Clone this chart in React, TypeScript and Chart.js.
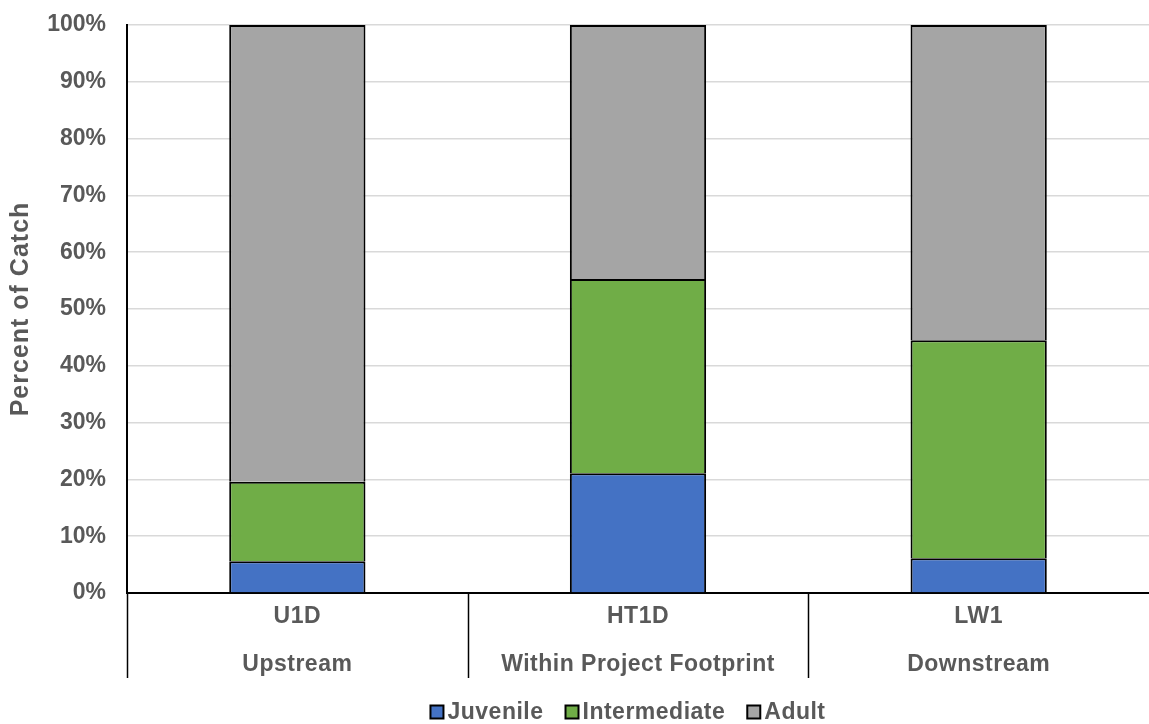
import React, { useEffect, useRef } from "react";
import { Chart, registerables } from "chart.js";

Chart.register(...registerables);

const sites = ["U1D", "HT1D", "LW1"];
const groups = ["Upstream", "Within Project Footprint", "Downstream"];
const seriesNames = ["Juvenile", "Intermediate", "Adult"];
const seriesColors = ["#4472C4", "#70AD47", "#A5A5A5"];
const juvenile = [5.6, 21.1, 6.1];
const intermediate = [14.0, 34.2, 38.4];
const adult = [80.4, 44.7, 55.5];
const yTicks = [0, 10, 20, 30, 40, 50, 60, 70, 80, 90, 100];
const yTitle = "Percent of Catch";

const FONT = "'Liberation Sans', Arial, sans-serif";
const TEXT = "#595959";

const customText = {
  id: "customText",
  afterDraw(chart: any) {
    const ctx = chart.ctx;
    const xs = chart.scales.x;
    const area = chart.chartArea;
    const n = sites.length;
    const step = (area.right - area.left) / n;
    ctx.save();
    ctx.fillStyle = TEXT;
    ctx.font = `bold 23px ${FONT}`;
    (ctx as any).letterSpacing = "0.5px";
    ctx.textAlign = "center";
    ctx.textBaseline = "middle";
    for (let i = 0; i < n; i++) {
      const x = xs.getPixelForValue(i);
      ctx.fillText(sites[i], x, area.bottom + 24);
      ctx.fillText(groups[i], x, area.bottom + 72);
    }
    ctx.strokeStyle = "#000";
    ctx.lineWidth = 1.5;
    for (let i = 0; i < n; i++) {
      const bx = Math.round(area.left + step * i) + 0.5;
      ctx.beginPath();
      ctx.moveTo(bx, area.bottom);
      ctx.lineTo(bx, area.bottom + 85);
      ctx.stroke();
    }

    // y-axis title
    ctx.save();
    ctx.font = `bold 25px ${FONT}`;
    (ctx as any).letterSpacing = "1px";
    ctx.translate(21, (area.top + area.bottom) / 2);
    ctx.rotate(-Math.PI / 2);
    ctx.fillText(yTitle, 0, 0);
    ctx.restore();

    // legend
    ctx.font = `bold 23px ${FONT}`;
    (ctx as any).letterSpacing = "0.5px";
    const box = 13;
    const boxGap = 4;
    const itemGap = 22;
    const widths = seriesNames.map((s) => ctx.measureText(s).width);
    let total = 0;
    widths.forEach((w, i) => {
      total += box + boxGap + w + (i < widths.length - 1 ? itemGap : 0);
    });
    let x = (area.left + area.right) / 2 - 10 - total / 2;
    const y = 712;
    ctx.textAlign = "left";
    seriesNames.forEach((s, i) => {
      ctx.fillStyle = seriesColors[i];
      ctx.fillRect(x, y - box / 2, box, box);
      ctx.strokeStyle = "#000";
      ctx.lineWidth = 2;
      ctx.strokeRect(x, y - box / 2, box, box);
      ctx.fillStyle = TEXT;
      ctx.fillText(s, x + box + boxGap, y + 1);
      x += box + boxGap + widths[i] + itemGap;
    });
    ctx.restore();
  },
};

export default function App() {
  const ref = useRef<HTMLCanvasElement | null>(null);
  useEffect(() => {
    if (!ref.current) return;
    const values = [juvenile, intermediate, adult];
    const chart = new Chart(ref.current, {
      type: "bar",
      data: {
        labels: sites,
        datasets: seriesNames.map((name, i) => ({
          label: name,
          data: values[i],
          backgroundColor: seriesColors[i],
          borderColor: "#000",
          borderWidth: 2,
        })),
      },
      options: {
        responsive: false,
        animation: false,
        layout: { padding: { top: 25, right: 0, bottom: 46, left: 0 } },
        datasets: { bar: { barPercentage: 0.4, categoryPercentage: 1 } },
        plugins: {
          legend: { display: false },
          tooltip: { enabled: false },
        },
        scales: {
          x: {
            stacked: true,
            grid: { display: false },
            border: { display: true, color: "#000", width: 2 },
            ticks: { display: false },
            afterFit: (s: any) => {
              s.height = 85;
              s.paddingLeft = 0;
              s.paddingRight = 0;
            },
          },
          y: {
            stacked: true,
            min: 0,
            max: 100,
            afterBuildTicks: (s: any) => {
              s.ticks = yTicks.map((v) => ({ value: v }));
            },
            afterFit: (s: any) => {
              s.width = 127;
              s.paddingTop = 0;
              s.paddingBottom = 0;
            },
            grid: { color: "#D9D9D9", lineWidth: 1.5, drawTicks: false },
            border: { display: true, color: "#000", width: 2 },
            ticks: {
              padding: 21,
              color: TEXT,
              font: { family: FONT, size: 23, weight: "bold" },
              callback: (v: any) => `${v}%`,
            },
          },
        },
      },
      plugins: [customText],
    });
    return () => chart.destroy();
  }, []);
  return (
    <div style={{ position: "fixed", left: 0, top: 0, width: 1149, height: 724, background: "#fff" }}>
      <canvas ref={ref} width={1149} height={724} />
    </div>
  );
}
